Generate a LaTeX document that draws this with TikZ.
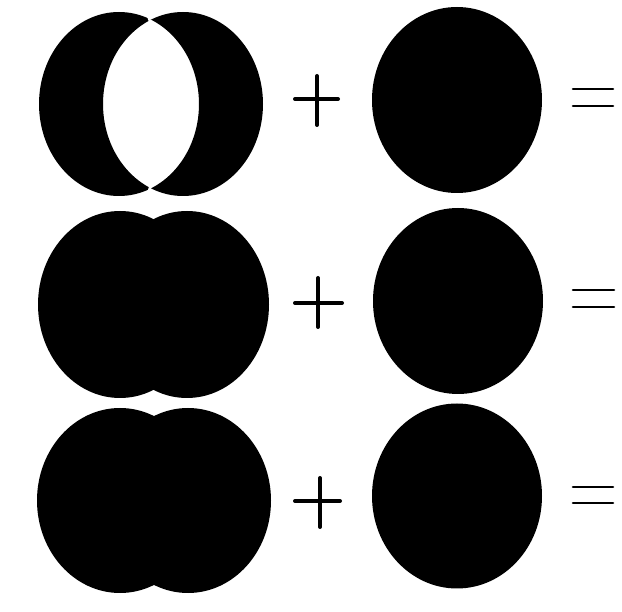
\documentclass[tikz,border=0pt]{standalone}
\begin{document}
\begin{tikzpicture}[x=1pt,y=-1pt,
  blob/.style={fill=black},
  plusbar/.style={line width=4pt,line cap=round,draw=black},
  eqbar/.style={line width=2.6pt,line cap=round,draw=black}]
\useasboundingbox[fill=white] (0,0) rectangle (622,612);
% row 1: symmetric difference of two ellipses
\fill[black,even odd rule] (119,104) ellipse [x radius=80,y radius=92]
                           (183,104) ellipse [x radius=80,y radius=92];
% small gaps at cusps
\draw[white,line width=2.5pt] (146,10) -- (151,24);
\draw[white,line width=2.5pt] (151,184) -- (147,198);
% rows 2 and 3: union of two ellipses
\fill[blob] (120,304.5) ellipse [x radius=82,y radius=93.5];
\fill[blob] (187,304.5) ellipse [x radius=82,y radius=93.5];
\fill[blob] (120,500.5) ellipse [x radius=83,y radius=92.5];
\fill[blob] (188,500.5) ellipse [x radius=83,y radius=92.5];
% right circles
\fill[blob] (457,100) ellipse [x radius=85,y radius=93];
\fill[blob] (458,301) ellipse [x radius=85,y radius=93];
\fill[blob] (457,496) ellipse [x radius=85,y radius=92.5];
% plus signs
\coordinate (p1l) at (295,99);  \coordinate (p1r) at (338,99);
\coordinate (p1t) at (317,76);  \coordinate (p1b) at (317,125);
\coordinate (p2l) at (295,303); \coordinate (p2r) at (342,303);
\coordinate (p2t) at (318,278); \coordinate (p2b) at (318,327);
\coordinate (p3l) at (295,501); \coordinate (p3r) at (340,501);
\coordinate (p3t) at (320,478); \coordinate (p3b) at (320,527);
\draw[plusbar] (p1l) -- (p1r); \draw[plusbar] (p1t) -- (p1b);
\draw[plusbar] (p2l) -- (p2r); \draw[plusbar] (p2t) -- (p2b);
\draw[plusbar] (p3l) -- (p3r); \draw[plusbar] (p3t) -- (p3b);
% equals signs
\draw[eqbar] (573,89) -- (613,89);   \draw[eqbar] (573,106) -- (613,106);
\draw[eqbar] (573,290) -- (614,290); \draw[eqbar] (573,307) -- (614,307);
\draw[eqbar] (573,487) -- (613,487); \draw[eqbar] (573,503) -- (613,503);
\end{tikzpicture}
\end{document}
